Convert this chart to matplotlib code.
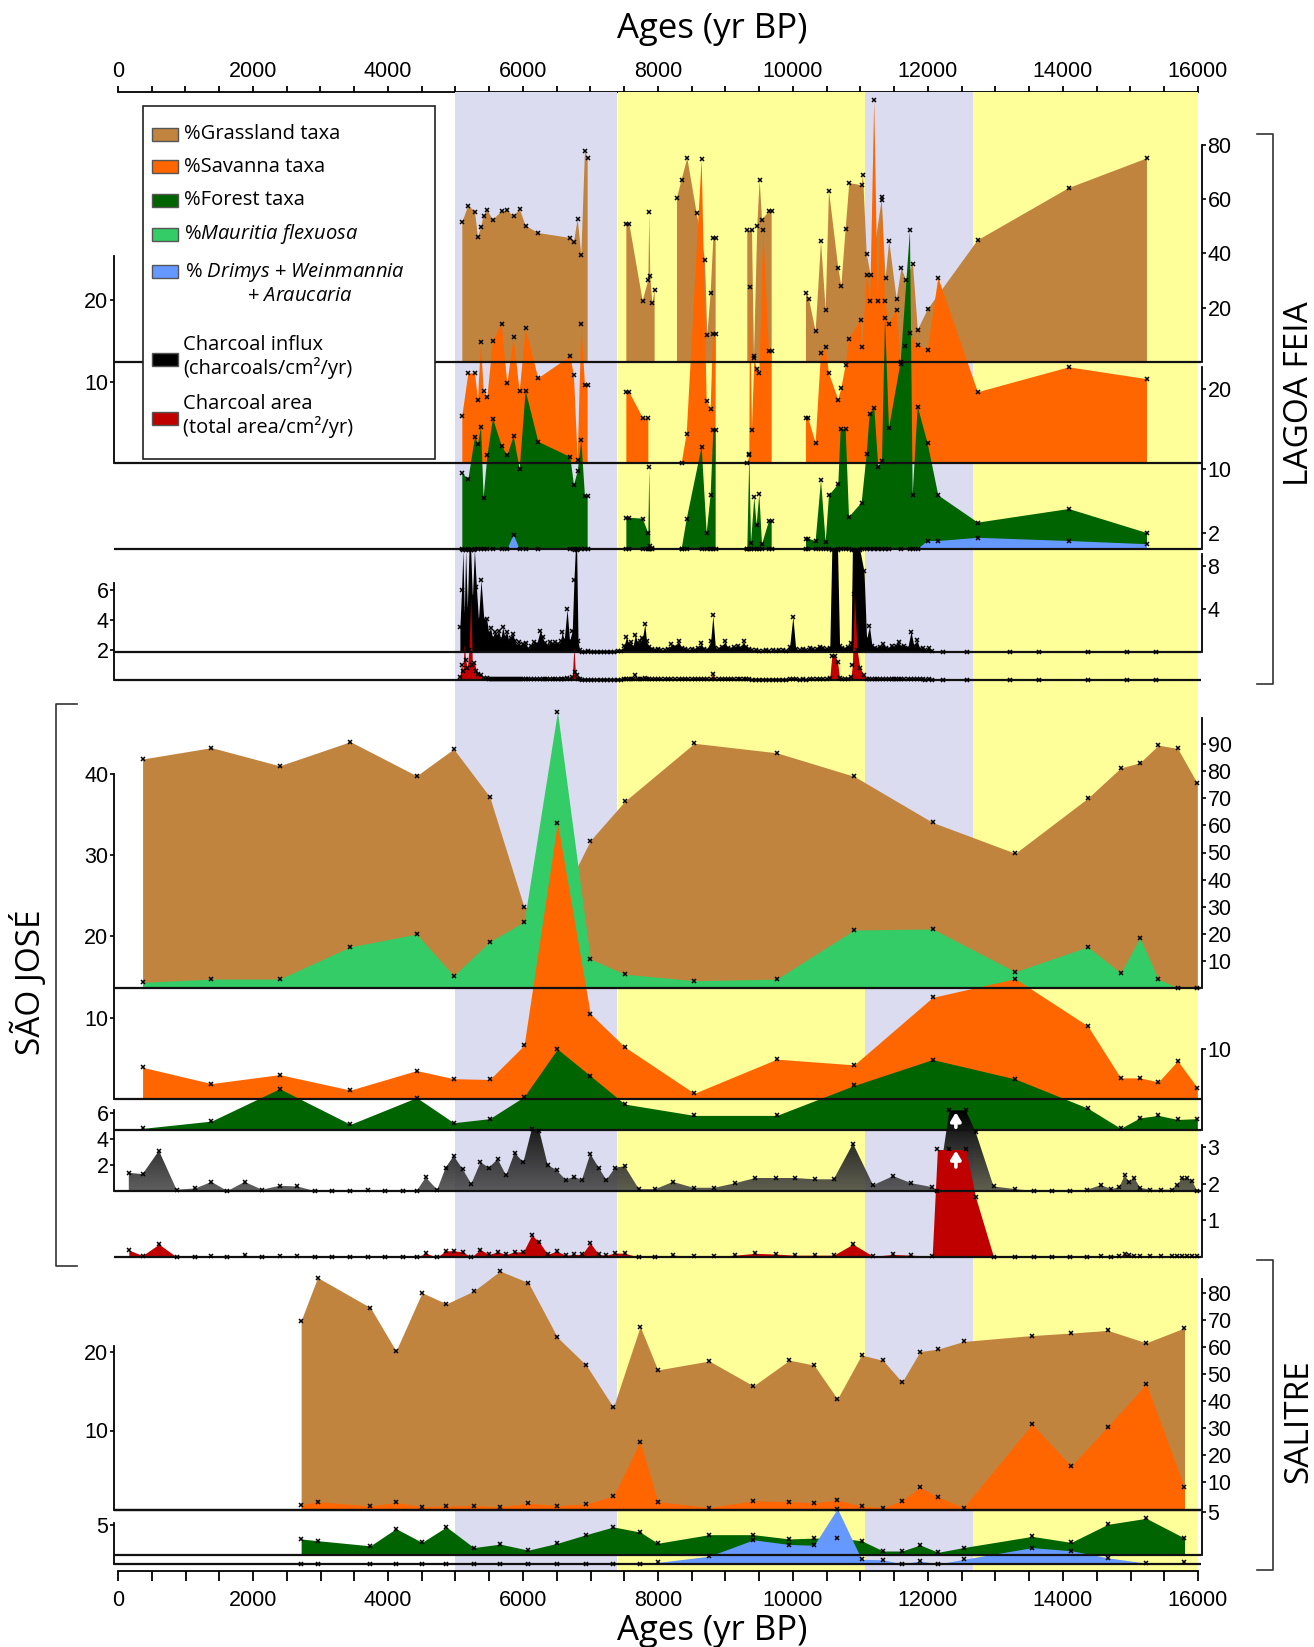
import numpy as np
import matplotlib
matplotlib.use('Agg')
import matplotlib.pyplot as plt
from matplotlib.patches import Rectangle, PathPatch
from matplotlib.colors import LinearSegmentedColormap
from matplotlib.ticker import MultipleLocator

plt.rcParams['font.family'] = ['Liberation Sans', 'DejaVu Sans']
plt.rcParams['mathtext.fontset'] = 'custom'
plt.rcParams['mathtext.rm'] = 'Open Sans'
plt.rcParams['mathtext.it'] = 'Open Sans:italic'

nan = np.nan

# ---------------- data (ages in yr BP) ----------------
# climate phases shaded in the background
band_edges = [(5000, 7400), (7400, 11070), (11070, 12660), (12660, 16000)]

# Lagoa Feia pollen (nan = gap in the record)
lf_grass_age = [5101, 5190, 5289, 5333, 5378, 5417, 5472, 5555, 5684, 5768, 5862, 5951, 6039, 6227, 6701, 6755,
                6810, 6864, 6918, 6958, 7200,
                7531, 7575, 7773, 7857, 7871, 7886, 7916, 7950, 8100,
                8281, 8350, 8434, 8573, 8696, 8731, 8780, 8820, 8854, 9100,
                9323, 9392, 9422, 9471, 9506, 9541, 9644, 9684, 9900,
                10192, 10237, 10335, 10415, 10484, 10533, 10671, 10716, 10780, 10834, 11017, 11037, 11092, 11150,
                11314, 11372, 11425, 11536, 11607, 11673, 11777, 11849, 11999, 12735, 14089, 15244]
lf_grass_pct = [51.6, 57.6, 55.4, 46.0, 49.7, 53.9, 55.9, 52.4, 55.5, 55.9, 53.6, 56.4, 50.2, 47.5, 45.7, 44.2,
                52.7, 39.4, 77.7, 75.0, nan,
                50.9, 50.9, 22.5, 30.3, 55.2, 31.5, 21.7, 26.6, nan,
                60.4, 67.2, 75.1, 54.9, 37.7, 10.1, 25.4, 45.7, 45.7, nan,
                48.7, 48.7, 2.1, 50.2, 67.2, 52.4, 55.5, 55.5, nan,
                25.4, 23.2, 11.3, 44.4, 19.3, 63.1, 34.6, 28.1, 49.1, 65.9, 65.1, 69.0, 39.9, 32.0,
                59.8, 30.9, 44.6, 23.2, 34.6, 30.3, 36.1, 11.9, 19.5, 44.8, 64.1, 75.0]

lf_sav_age = [5101, 5190, 5289, 5333, 5378, 5417, 5472, 5555, 5684, 5768, 5862, 5951, 6039, 6227, 6701, 6755,
              6810, 6864, 6918, 6958, 7200,
              7531, 7575, 7773, 7857, 8100,
              8350, 8425, 8647, 8721, 8780, 8815, 8854, 9100,
              9323, 9353, 9363, 9392, 9427, 9461, 9501, 9560, 9644, 9684, 9900,
              10192, 10227, 10335, 10415, 10484, 10533, 10671, 10716, 10780, 10830, 11001, 11027, 11092, 11144,
              11203, 11255, 11314, 11360, 11422, 11536, 11595, 11659, 11733, 11847, 11995, 12153, 12740, 14089, 15244]
lf_sav_pct = [5.8, 11.0, 11.0, 7.8, 14.9, 8.8, 8.1, 15.0, 17.1, 9.8, 15.4, 8.8, 16.5, 10.4, 13.1, 10.8,
              0.4, 17.0, 9.6, 9.6, nan,
              8.7, 8.7, 5.6, 5.6, nan,
              0.0, 3.6, 37.3, 7.6, 6.7, 15.8, 15.8, nan,
              0.0, 1.0, 21.6, 4.1, 12.9, 11.6, 11.0, 28.6, 13.7, 13.7, nan,
              5.5, 5.5, 2.5, 13.5, 14.2, 11.0, 7.8, 9.2, 12.0, 15.2, 17.5, 14.2, 23.1, 19.9,
              44.5, 19.9, 32.6, 19.9, 17.1, 18.8, 12.2, 14.3, 16.0, 14.5, 13.9, 22.7, 8.7, 11.75, 10.3]

lf_for_age = [5101, 5190, 5289, 5333, 5378, 5417, 5472, 5555, 5684, 5768, 5862, 5951, 6039, 6227, 6701, 6755,
              6810, 6864, 6918, 6958, 7200,
              7531, 7575, 7773, 7857, 7871, 7886, 7911, 8100,
              8350, 8425, 8647, 8721, 8780, 8820, 8854, 9100,
              9323, 9353, 9378, 9427, 9461, 9501, 9541, 9644, 9684, 9900,
              10192, 10227, 10335, 10415, 10484, 10533, 10671, 10706, 10780, 10830, 11017, 11092, 11136, 11205,
              11264, 11318, 11363, 11422, 11595, 11733, 11773, 11847, 11995, 12153, 12740, 14089, 15244]
lf_for_pct = [9.5, 8.7, 14.0, 13.1, 15.3, 6.4, 11.7, 16.3, 12.9, 11.7, 14.1, 10.0, 19.8, 13.4, 11.5, 8.0,
              9.7, 13.6, 6.6, 6.6, nan,
              3.9, 3.9, 3.8, 2.0, 10.2, 0.4, 0.1, nan,
              0.0, 3.75, 12.8, 2.0, 6.8, 14.9, 14.9, nan,
              0.0, 11.9, 0.75, 6.5, 3.0, 6.9, 0.6, 3.5, 3.5, nan,
              1.3, 1.3, 1.0, 8.6, 0.9, 6.7, 8.1, 15.0, 15.0, 4.0, 5.8, 11.9, 16.9, 17.6,
              10.2, 11.0, 28.9, 15.1, 23.4, 39.9, 6.8, 17.8, 13.2, 6.7, 3.3, 5.0, 2.0]
lf_drimys_pct = ([0.0] * 10 + [1.75] + [0.0] * 9 + [nan] + [0.0] * 7 + [nan] + [0.0] * 7 + [nan]
                 + [0.0] * 9 + [nan] + [0.0] * 22 + [1.0, 1.0, 1.4, 1.0, 0.6])

# Lagoa Feia charcoal
lf_char_age = [5065, 5090, 5110, 5130, 5150, 5175, 5200, 5225, 5250, 5280,
               5310, 5340, 5378, 5420, 5462, 5490, 5520, 5550, 5580, 5610,
               5640, 5670, 5700, 5730, 5760, 5790, 5820, 5850, 5880, 5910,
               5940, 5970, 6000, 6040, 6080, 6120, 6160, 6200, 6256, 6290,
               6320, 6360, 6400, 6440, 6480, 6520, 6560, 6579, 6610, 6653,
               6690, 6730, 6755, 6775, 6795, 6815, 6840, 6880, 6920, 6960,
               7000, 7050, 7100, 7150, 7200, 7250, 7300, 7350, 7400, 7450,
               7500, 7532, 7570, 7600, 7630, 7662, 7700, 7740, 7770, 7805,
               7830, 7870, 7910, 7950, 8000, 8050, 8100, 8150, 8200, 8250,
               8304, 8350, 8400, 8450, 8500, 8550, 8600, 8637, 8680, 8720,
               8780, 8813, 8850, 8900, 8950, 8993, 9030, 9080, 9130, 9180,
               9220, 9267, 9300, 9350, 9400, 9450, 9500, 9550, 9600, 9650,
               9700, 9750, 9800, 9850, 9900, 9950, 9998, 10040, 10100, 10150,
               10200, 10250, 10300, 10350, 10400, 10450, 10500, 10545, 10575, 10620,
               10660, 10690, 10730, 10770, 10820, 10860, 10880, 10910, 10950, 10990,
               11052, 11090, 11132, 11170, 11210, 11250, 11290, 11336, 11380, 11420,
               11460, 11500, 11530, 11563, 11600, 11650, 11700, 11748, 11790, 11836,
               11880, 11920, 11960, 12015, 12060, 12215, 12584, 13215, 13649, 14375,
               14954, 15378]
lf_influx = [2.3, 5.8, 9.5, 3.5, 9.5, 4.0, 9.5, 9.5, 5.0, 9.5,
             6.0, 3.0, 6.7, 3.0, 3.1, 1.8, 2.2, 1.3, 1.9, 1.5,
             2.0, 1.2, 2.3, 1.4, 1.9, 1.0, 1.3, 1.7, 1.0, 0.6,
             0.9, 0.5, 0.7, 0.8, 0.3, 0.6, 0.9, 0.7, 2.0, 1.4,
             0.8, 0.6, 0.9, 0.7, 0.9, 0.7, 1.0, 1.9, 1.1, 4.0,
             1.0, 2.0, 6.7, 9.5, 9.5, 1.0, 0.2, 0.0, 0.0, 0.05,
             0.0, 0.0, 0.0, 0.0, 0.0, 0.0, 0.0, 0.0, 0.05, 0.1,
             0.6, 1.4, 0.7, 0.9, 0.5, 1.6, 0.8, 1.0, 1.3, 2.6,
             1.0, 0.5, 0.3, 0.2, 0.3, 0.2, 0.2, 0.3, 0.7, 0.5,
             1.0, 0.4, 0.3, 0.2, 0.3, 0.2, 0.4, 0.8, 0.3, 0.2,
             1.0, 3.4, 0.4, 0.3, 0.5, 1.0, 0.4, 0.3, 0.5, 0.6,
             0.4, 1.0, 0.5, 0.3, 0.2, 0.2, 0.1, 0.1, 0.2, 0.1,
             0.2, 0.1, 0.2, 0.2, 0.1, 0.5, 3.3, 0.3, 0.2, 0.3,
             0.2, 0.4, 0.3, 0.3, 0.5, 0.4, 0.3, 0.4, 9.5, 9.5,
             9.5, 0.6, 0.4, 0.3, 0.5, 0.8, 9.5, 9.5, 9.5, 9.5,
             7.5, 1.2, 2.4, 0.6, 0.4, 0.3, 0.5, 0.7, 0.4, 0.3,
             0.6, 0.4, 0.6, 0.9, 0.5, 0.6, 0.4, 1.9, 0.6, 1.1,
             0.3, 0.4, 0.2, 0.4, 0.1, 0.0, 0.0, 0.0, 0.0, 0.0,
             0.0, 0.0]
lf_area = [0.2, 1.0, 0.6, 2.4, 1.3, 0.8, 2.0, 5.5, 1.0, 1.1,
           0.6, 0.4, 0.3, 0.1, 0.1, 0.05, 0.05, 0.05, 0.05, 0.05,
           0.05, 0.05, 0.05, 0.05, 0.05, 0.05, 0.05, 0.05, 0.05, 0.03,
           0.03, 0.03, 0.03, 0.03, 0.02, 0.02, 0.03, 0.03, 0.05, 0.03,
           0.03, 0.02, 0.02, 0.02, 0.02, 0.02, 0.03, 0.03, 0.03, 0.1,
           0.05, 0.2, 2.2, 0.5, 0.3, 0.05, 0.02, 0.0, 0.0, 0.0,
           0.0, 0.0, 0.0, 0.0, 0.0, 0.0, 0.0, 0.0, 0.0, 0.0,
           0.02, 0.05, 0.02, 0.03, 0.02, 0.3, 0.03, 0.03, 0.05, 0.1,
           0.03, 0.02, 0.01, 0.01, 0.01, 0.01, 0.01, 0.01, 0.02, 0.02,
           0.03, 0.01, 0.01, 0.01, 0.01, 0.01, 0.01, 0.02, 0.01, 0.01,
           0.03, 0.4, 0.02, 0.01, 0.01, 0.03, 0.01, 0.01, 0.01, 0.02,
           0.01, 0.02, 0.01, 0.01, 0.0, 0.0, 0.0, 0.0, 0.0, 0.0,
           0.0, 0.0, 0.0, 0.0, 0.0, 0.01, 0.05, 0.01, 0.0, 0.01,
           0.0, 0.01, 0.01, 0.01, 0.01, 0.01, 0.01, 0.1, 1.6, 1.6,
           1.2, 0.1, 0.02, 0.02, 0.02, 0.2, 1.0, 5.7, 2.0, 0.8,
           0.3, 0.05, 0.05, 0.02, 0.02, 0.01, 0.01, 0.02, 0.01, 0.01,
           0.02, 0.01, 0.02, 0.02, 0.01, 0.01, 0.01, 0.03, 0.01, 0.02,
           0.01, 0.01, 0.0, 0.01, 0.0, 0.0, 0.0, 0.0, 0.0, 0.0,
           0.0, 0.0]

# Sao Jose pollen
sj_age = [364, 1385, 2394, 3443, 4424, 4973, 5506, 6016, 6510, 6997, 7508,
          8538, 9759, 10907, 12068, 13293, 14366, 14854, 15139, 15413, 15699, 15990]
sj_grass = [84.5, 88.7, 82.0, 90.9, 78.3, 88.2, 70.6, 29.8, 30.0, 54.4, 68.9,
            90.3, 86.8, 78.1, 61.1, 49.7, 70.0, 81.2, 83.1, 89.6, 88.4, 75.5]
sj_mauritia = [2.1, 3.3, 3.3, 15.2, 19.9, 4.5, 17.1, 24.4, 102.0, 10.7, 5.1,
               2.7, 3.3, 21.4, 21.8, 6.0, 15.2, 5.6, 18.5, 3.3, 0.0, 0.0]
sj_sav = [3.9, 1.9, 3.0, 1.1, 3.5, 2.5, 2.4, 6.6, 34.0, 10.5, 6.4,
          0.7, 4.9, 4.2, 12.5, 14.8, 9.0, 2.6, 2.6, 2.1, 4.7, 1.4]
sj_forest = [0.2, 1.1, 5.1, 0.7, 4.0, 0.9, 1.4, 4.1, 10.0, 6.7, 3.2,
             1.8, 1.8, 5.5, 8.7, 6.3, 2.7, 0.2, 1.5, 1.8, 1.3, 1.4]

# Sao Jose charcoal (peaks near 12400 are off scale)
sj_char_age = [160, 364, 607, 868, 1147, 1385, 1622, 1877, 2133, 2394,
               2655, 2916, 3175, 3443, 3700, 3960, 4220, 4424, 4560, 4729,
               4855, 4973, 5104, 5234, 5370, 5495, 5625, 5750, 5876, 6006,
               6130, 6243, 6367, 6498, 6634, 6754, 6873, 6997, 7122, 7235,
               7366, 7508, 7717, 7962, 8222, 8526, 8836, 9145, 9443, 9745,
               10027, 10324, 10603, 10889, 11187, 11484, 11752, 12062, 12139, 12318,
               12560, 12705, 12972, 13288, 13565, 13837, 14104, 14354, 14561, 14716,
               14835, 14913, 14984, 15056, 15144, 15293, 15450, 15608, 15691, 15768,
               15839, 15910, 15990]
sj_influx = [1.4, 1.3, 3.1, 0.1, 0.2, 0.7, 0.0, 0.7, 0.1, 0.4,
             0.35, 0.0, 0.0, 0.0, 0.1, 0.0, 0.0, 0.0, 1.05, 0.1,
             1.8, 2.7, 1.7, 0.55, 2.2, 1.8, 2.45, 1.2, 2.95, 2.2,
             4.75, 4.6, 2.0, 1.6, 0.85, 1.1, 0.85, 2.85, 1.8, 0.85,
             1.8, 1.9, 0.15, 0.15, 0.7, 0.25, 0.25, 0.6, 1.0, 1.0,
             1.0, 0.9, 0.9, 3.65, 0.45, 1.15, 0.6, 0.3, 0.0, 6.2,
             6.2, 4.55, 0.35, 0.15, 0.0, 0.0, 0.0, 0.1, 0.45, 0.15,
             0.3, 1.2, 0.7, 1.0, 0.25, 0.1, 0.1, 0.1, 0.45, 1.0,
             1.0, 0.8, 0.0]
sj_area = [0.19, 0.04, 0.35, 0.0, 0.0, 0.03, 0.0, 0.05, 0.0, 0.02,
           0.02, 0.0, 0.0, 0.0, 0.0, 0.0, 0.0, 0.0, 0.1, 0.0,
           0.17, 0.17, 0.14, 0.0, 0.2, 0.07, 0.14, 0.07, 0.14, 0.14,
           0.6, 0.4, 0.07, 0.16, 0.05, 0.07, 0.07, 0.38, 0.07, 0.05,
           0.11, 0.1, 0.0, 0.0, 0.05, 0.02, 0.02, 0.05, 0.1, 0.08,
           0.05, 0.05, 0.05, 0.35, 0.02, 0.07, 0.05, 0.02, 2.93, 2.93,
           2.93, 1.63, 0.0, 0.0, 0.0, 0.0, 0.0, 0.0, 0.02, 0.0,
           0.02, 0.08, 0.06, 0.04, 0.03, 0.02, 0.02, 0.02, 0.03, 0.04,
           0.03, 0.03, 0.02]
sj_offscale_age = 12413

# Salitre pollen
sa_age = [2713, 2957, 3739, 4119, 4504, 4866, 5270, 5661, 6080, 6511,
          6936, 7339, 7736, 7997, 8759, 9414, 9948, 10311, 10658, 11015,
          11336, 11615, 11883, 12151, 12526, 13543, 14121, 14663, 15234, 15800]
sa_grass = [69.7, 85.6, 74.5, 58.5, 80.0, 75.9, 80.6, 88.0, 83.7, 63.5,
            53.3, 37.7, 67.5, 51.5, 54.8, 45.6, 55.1, 53.3, 40.8, 57.0,
            55.0, 47.0, 58.3, 59.2, 62.0, 64.2, 65.1, 66.1, 61.5, 67.0]
sa_sav = [0.6, 1.0, 0.45, 0.9, 0.35, 0.45, 0.5, 0.35, 0.8, 0.5,
          0.7, 1.7, 8.6, 1.0, 0.25, 1.1, 1.0, 0.85, 1.2, 0.45,
          0.25, 1.1, 2.8, 1.6, 0.25, 10.8, 5.5, 10.5, 15.9, 2.8]
sa_forest = [1.9, 1.7, 1.1, 3.1, 1.5, 3.3, 0.9, 1.3, 0.6, 1.4,
             2.4, 3.3, 2.7, 1.4, 2.4, 2.4, 1.9, 2.0, 2.0, 1.7,
             0.5, 0.5, 1.2, 0.35, 0.9, 2.2, 1.5, 3.6, 4.3, 2.0]
sa_drimys = [0.0, 0.0, 0.0, 0.0, 0.0, 0.0, 0.0, 0.0, 0.0, 0.0,
             0.0, 0.0, 0.0, 0.2, 1.0, 3.1, 2.5, 2.4, 7.1, 0.6,
             0.55, 0.0, 0.4, 0.0, 0.6, 2.1, 1.7, 0.8, 0.1, 0.2]

# colours
c_grass = '#c1843f'
c_sav = '#ff6600'
c_forest = '#006400'
c_maur = '#33cc66'
c_drimys = '#6699ff'
c_area = '#c00000'
band_colours = ['#dcdcf0', '#ffff99', '#dcdcf0', '#ffff99']

# ---------------- figure ----------------
W, H = 1314, 1647
X0, X1 = 118, 1198          # pixel position of 0 and 16000 yr BP
TOP, BOTTOM = 92.3, 1571    # age axes
fig = plt.figure(figsize=(W / 100, H / 100), dpi=100)

# background bands + age axes
bg = fig.add_axes([X0 / W, 1 - BOTTOM / H, (X1 - X0) / W, (BOTTOM - TOP) / H], zorder=0)
bg.set_xlim(0, 16000)
bg.set_ylim(0, 1)
for (a, b), c in zip(band_edges, band_colours):
    bg.axvspan(a, b, color=c, lw=0)
for s in ['left', 'right', 'top']:
    bg.spines[s].set_visible(False)
bg.spines['bottom'].set_linewidth(1.3)
bg.set_yticks([])
bg.set_xticks(np.arange(0, 16001, 2000))
bg.xaxis.set_minor_locator(MultipleLocator(500))
bg.tick_params(axis='x', which='both', direction='out', length=7.2, width=1.3, labelsize=15.5, pad=6.5)

top = bg.secondary_xaxis('top')
top.set_xticks(np.arange(0, 16001, 2000))
top.xaxis.set_minor_locator(MultipleLocator(500))
top.tick_params(axis='x', which='both', direction='out', length=4.3, width=1.3, labelsize=15.5, pad=3)
top.spines['top'].set_linewidth(1.3)

fig.text(712 / W, 1 - 29 / H, 'Ages (yr BP)', family='Open Sans', fontsize=25, ha='center', va='center')
fig.text(712 / W, 1 - 1631 / H, 'Ages (yr BP)', family='Open Sans', fontsize=25, ha='center', va='center')


def layer(base, scale, ymax, z):
    # transparent axes whose 0 sits on the pixel row `base`
    top_px = base - ymax * scale
    ax = fig.add_axes([X0 / W, 1 - base / H, (X1 - X0) / W, (base - top_px) / H], zorder=z)
    ax.set_xlim(0, 16000)
    ax.set_ylim(0, ymax)
    ax.patch.set_visible(False)
    for s in ax.spines.values():
        s.set_visible(False)
    ax.set_xticks([])
    ax.set_yticks([])
    return ax


baselines = []


def panel(base, scale, ymax, side, spine_top, ticks, z):
    ax = layer(base, scale, ymax, z)
    sp = ax.spines[side]
    sp.set_visible(True)
    sp.set_bounds(0, spine_top)
    sp.set_position(('outward', 2.9))
    sp.set_linewidth(1.3)
    ax.yaxis.set_ticks_position(side)
    ax.set_yticks(ticks)
    ax.tick_params(axis='y', direction='out', length=3, width=1.2, labelsize=15.5, pad=1)
    mk = layer(base, scale, ymax, z + 100)
    baselines.append(base)
    return ax, mk


def crosses(ax, x, y):
    ax.plot(x, y, ls='none', marker='x', ms=3.3, mew=1.1, color='black', clip_on=False)


def up_arrow(ax, x, y0, y1):
    ax.annotate('', xy=(x, y1), xytext=(x, y0),
                arrowprops=dict(arrowstyle='-|>,head_length=0.5,head_width=0.3', color='white',
                                lw=2.6, mutation_scale=10, shrinkA=0, shrinkB=0))


# ---- Lagoa Feia ----
ax, mk = panel(362, 2.715, 85, 'right', 80, [20, 40, 60, 80], 1)
ax.fill_between(lf_grass_age, 0, lf_grass_pct, color=c_grass, lw=0)
crosses(mk, lf_grass_age, lf_grass_pct)

ax, mk = panel(463.3, 8.17, 46, 'left', 25.4, [10, 20], 2)
ax.fill_between(lf_sav_age, 0, lf_sav_pct, color=c_sav, lw=0)
crosses(mk, lf_sav_age, lf_sav_pct)

ax, mk = panel(549, 8.0, 42, 'right', 22.7, [2, 10, 20], 3)
ax.fill_between(lf_for_age, 0, lf_for_pct, color=c_forest, lw=0)
ax.fill_between(lf_for_age, 0, lf_drimys_pct, color=c_drimys, lw=0)
crosses(mk, lf_for_age, lf_for_pct)
crosses(mk, lf_for_age, lf_drimys_pct)

ax, mk = panel(652, 10.75, 9.58, 'right', 9.16, [4, 8], 4)
ax.fill_between(lf_char_age, 0, lf_influx, color='black', lw=0)
crosses(mk, lf_char_age, lf_influx)

ax, mk = panel(679.5, 15.0, 6.6, 'left', 6.43, [2, 4, 6], 5)
ax.fill_between(lf_char_age, 0, lf_area, color=c_area, lw=0)
crosses(mk, lf_char_age, lf_area)

# ---- Sao Jose ----
ax, mk = panel(988, 2.71, 104, 'right', 99.5, list(range(10, 91, 10)), 6)
ax.fill_between(sj_age, 0, sj_grass, color=c_grass, lw=0)
ax.fill_between(sj_age, 0, sj_mauritia, color=c_maur, lw=0)
shown = np.array(sj_grass) >= np.array(sj_mauritia)
crosses(mk, np.array(sj_age)[shown], np.array(sj_grass)[shown])
crosses(mk, sj_age, sj_mauritia)

ax, mk = panel(1099, 8.13, 40, 'left', 40, [10, 20, 30, 40], 7)
ax.fill_between(sj_age, 0, sj_sav, color=c_sav, lw=0)
crosses(mk, sj_age, sj_sav)

ax, mk = panel(1130, 8.1, 11, 'right', 10, [10], 8)
ax.fill_between(sj_age, 0, sj_forest, color=c_forest, lw=0)
crosses(mk, sj_age, sj_forest)

ax, mk = panel(1191, 13.0, 6.25, 'left', 6.2, [2, 4, 6], 9)
soot = LinearSegmentedColormap.from_list('soot', [(0.26, 0.26, 0.26, 0.85), (0.16, 0.16, 0.16, 0.95), (0, 0, 0, 1)])
poly = ax.fill_between(sj_char_age, 0, sj_influx, facecolor='none', lw=0)
clip = PathPatch(poly.get_paths()[0], transform=ax.transData, fc='none', ec='none')
ax.add_patch(clip)
ax.imshow(np.linspace(0, 1, 256).reshape(-1, 1), extent=[0, 16000, 0, 6.25], origin='lower',
          aspect='auto', cmap=soot, clip_path=clip, interpolation='bilinear')
ax.set_xlim(0, 16000)
ax.set_ylim(0, 6.25)
crosses(mk, sj_char_age, sj_influx)
up_arrow(mk, sj_offscale_age, 4.9, 6.05)

ax, mk = panel(1257, 36.7, 3.1, 'right', 3.05, [1, 2, 3], 10)
ax.fill_between(sj_char_age, 0, sj_area, color=c_area, lw=0)
crosses(mk, sj_char_age, sj_area)
up_arrow(mk, sj_offscale_age, 2.45, 2.9)

# ---- Salitre ----
ax, mk = panel(1509.5, 2.71, 90, 'right', 84.9, list(range(10, 81, 10)), 11)
ax.fill_between(sa_age, 0, sa_grass, color=c_grass, lw=0)
crosses(mk, sa_age, sa_grass)

ax, mk = panel(1509.5, 7.9, 20.7, 'left', 20.7, [10, 20], 12)
ax.fill_between(sa_age, 0, sa_sav, color=c_sav, lw=0)
crosses(mk, sa_age, sa_sav)

ax, mk = panel(1555.3, 8.6, 5.2, 'right', 5, [5], 13)
ax.fill_between(sa_age, 0, sa_forest, color=c_forest, lw=0)
crosses(mk, sa_age, sa_forest)

ax, mk = panel(1564, 7.8, 7.5, 'left', 5.25, [5], 14)
ax.fill_between(sa_age, 0, sa_drimys, color=c_drimys, lw=0)
crosses(mk, sa_age, sa_drimys)

# ---- overlay: baselines, brackets, site names, legend ----
ov = fig.add_axes([0, 0, 1, 1], zorder=50)
ov.set_xlim(0, W)
ov.set_ylim(H, 0)
ov.axis('off')

for y in baselines:
    ov.plot([114, 1201], [y, y], color='#111111', lw=1.6, solid_capstyle='butt')

bk = dict(color='#333333', lw=1.2)
ov.plot([1257, 1273, 1273, 1257], [134, 134, 684, 684], **bk)
ov.plot([77, 56, 56, 77], [704, 704, 1266, 1266], **bk)
ov.plot([1257, 1273, 1273, 1257], [1260, 1260, 1570, 1570], **bk)

site = dict(family='Open Sans', fontsize=24, rotation=90, ha='center', va='center')
ov.text(1299, 394, 'LAGOA FEIA', **site)
ov.text(29, 982, 'SÃO JOSÉ', **site)
ov.text(1299, 1421, 'SALITRE', **site)

ov.add_patch(Rectangle((143, 106), 292, 353, fc='white', ec='#222222', lw=1.2, zorder=3))
lg = dict(family='Open Sans', fontsize=14.5, va='center', ha='left', zorder=4)
entries = [(134, c_grass), (166.5, c_sav), (200, c_forest), (234.5, c_maur), (271.5, c_drimys),
           (359, 'black'), (418, c_area)]
for y, c in entries:
    ov.add_patch(Rectangle((152, y - 6.5), 26, 13, fc=c, ec='#555555', lw=1, zorder=4))
ov.text(184, 134, '%Grassland taxa', **lg)
ov.text(184, 166.5, '%Savanna taxa', **lg)
ov.text(184, 200, '%Forest taxa', **lg)
ov.text(184, 234.5, r'%$\mathit{Mauritia\ flexuosa}$', **lg)
ov.text(185, 273, r'% $\mathit{Drimys}$ + $\mathit{Weinmannia}$', **lg)
ov.text(300, 296, r'+ $\mathit{Araucaria}$', family='Open Sans', fontsize=14.5, va='center', ha='center', zorder=4)
ov.text(183, 345, 'Charcoal influx', **lg)
ov.text(183, 368, '(charcoals/cm²/yr)', **lg)
ov.text(183, 404, 'Charcoal area', **lg)
ov.text(183, 427, '(total area/cm²/yr)', **lg)

fig.savefig('out.png', dpi=100)
